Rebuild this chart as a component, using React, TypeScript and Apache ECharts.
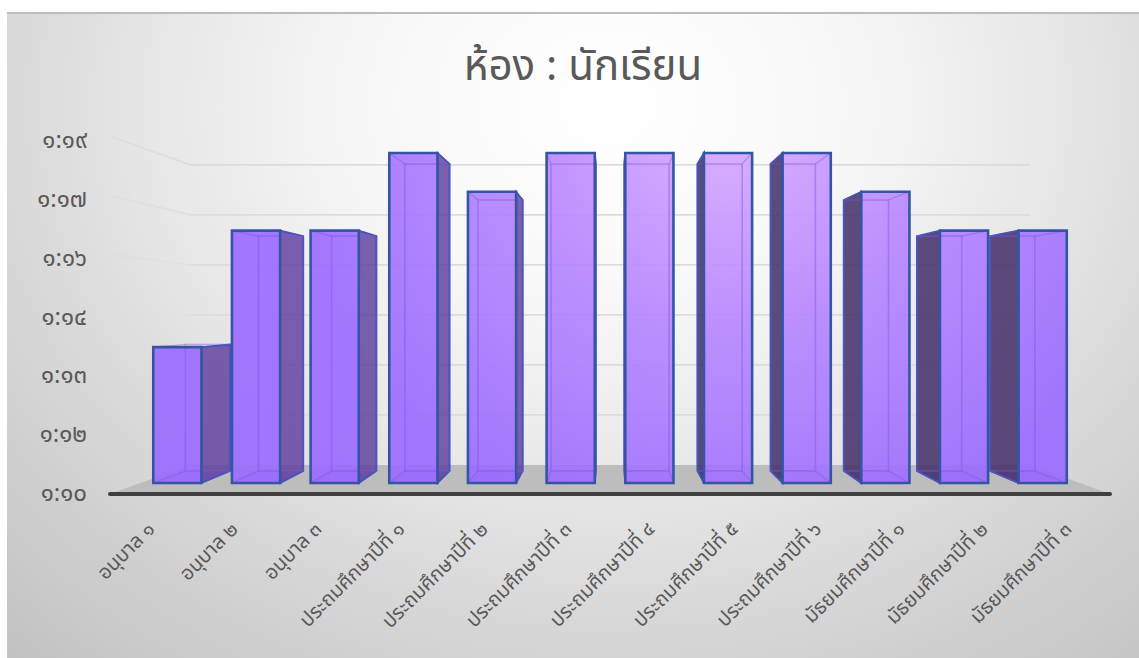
import React, { useEffect, useRef } from "react";
import * as echarts from "echarts";

const categories = [
  "อนุบาล ๑", "อนุบาล ๒", "อนุบาล ๓",
  "ประถมศึกษาปีที่ ๑", "ประถมศึกษาปีที่ ๒", "ประถมศึกษาปีที่ ๓",
  "ประถมศึกษาปีที่ ๔", "ประถมศึกษาปีที่ ๕", "ประถมศึกษาปีที่ ๖",
  "มัธยมศึกษาปีที่ ๑", "มัธยมศึกษาปีที่ ๒", "มัธยมศึกษาปีที่ ๓",
];
const studentsPerRoom = [13.5, 16.5, 16.5, 18.5, 17.5, 18.5, 18.5, 18.5, 18.5, 17.5, 16.5, 16.5];
const tickValues = [10, 11.5, 13, 14.5, 16, 17.5, 19];
const tickLabels = ["๑:๑๐", "๑:๑๒", "๑:๑๓", "๑:๑๔", "๑:๑๖", "๑:๑๗", "๑:๑๙"];
const titleText = "ห้อง : นักเรียน";

const FONT = '"Noto Sans Thai", Tahoma, "Noto Sans", "DejaVu Sans", sans-serif';
const VPX = 610.5;
const VPY = 310;
const BAR_K = 0.93;
const WALL_K = 0.84;
const WALL_VPY = 300;

export default function App() {
  const ref = useRef<HTMLDivElement>(null);
  useEffect(() => {
    const chart = echarts.init(ref.current!, undefined, { renderer: "svg" });
    const frontFill = new (echarts.graphic as any).RadialGradient(
      730, 120, 430,
      [
        { offset: 0, color: "rgba(216,170,255,0.9)" },
        { offset: 0.45, color: "rgba(184,134,255,0.9)" },
        { offset: 1, color: "rgba(154,106,255,0.9)" },
      ],
      true
    );

    const renderGrid = (params: any, api: any) => {
      const v = api.value(0);
      const sys = params.coordSys;
      const fy = api.coord([0, v])[1];
      const by = WALL_VPY + (fy - WALL_VPY) * 0.85;
      const lx = VPX + (sys.x - VPX) * WALL_K;
      const rx = VPX + (sys.x + sys.width - VPX) * WALL_K;
      const children: any[] = [];
      if (v > 10) {
        children.push({
          type: "line",
          shape: { x1: lx, y1: by, x2: rx, y2: by },
          style: { stroke: "#dcdcdc", lineWidth: 1.8 },
        });
        const o = Math.max(0, (v - 13) / 6);
        children.push({
          type: "line",
          shape: { x1: sys.x + 2, y1: fy - 4, x2: lx, y2: by },
          style: { stroke: "#dcdcdc", lineWidth: 1.8, opacity: Math.min(1, o * 0.9) },
        });
      }
      return { type: "group", children };
    };

    const renderFloor = (params: any, api: any) => {
      const sys = params.coordSys;
      const fy = api.coord([0, 10])[1];
      const by = WALL_VPY + (fy - WALL_VPY) * 0.85;
      const l = sys.x;
      const r = sys.x + sys.width;
      return {
        type: "polygon",
        shape: {
          points: [
            [l, fy],
            [VPX + (l - VPX) * WALL_K, by],
            [VPX + (r - VPX) * WALL_K, by],
            [r, fy],
          ],
        },
        style: { fill: "#bdbdbd" },
      };
    };

    const renderBar = (_p: any, api: any) => {
      const idx = api.value(0);
      const v = api.value(1);
      const c = api.coord([idx, v]);
      const base = api.coord([idx, 10]);
      const w = api.size([1, 0])[0] * 0.578;
      const cx = VPX + (c[0] - VPX) * 0.944;
      const fl = cx - w / 2;
      const fr = cx + w / 2;
      const fb = base[1] - 11;
      const ft = fb + (c[1] - base[1]) * 0.99;
      const bx = (x: number) => VPX + (x - VPX) * BAR_K;
      const byy = (y: number) => VPY + (y - VPY) * BAR_K;
      const bl = bx(fl), brr = bx(fr), bt = byy(ft), bb = byy(fb);
      const edge = "#3355a4";
      const inner = "rgba(122,84,226,0.42)";
      const leftSide = cx > VPX;
      const sideX = leftSide ? fl : fr;
      const sideBX = leftSide ? bl : brr;
      const sideFill = leftSide ? "rgba(66,46,104,0.86)" : "rgba(92,58,158,0.8)";
      const poly = (pts: number[][], style: any) => ({ type: "polygon", shape: { points: pts }, style });
      const line = (x1: number, y1: number, x2: number, y2: number, style: any) => ({
        type: "line", shape: { x1, y1, x2, y2 }, style,
      });
      return {
        type: "group",
        children: [
          poly([[fl, fb], [bl, bb], [brr, bb], [fr, fb]], { fill: "rgba(150,100,250,0.35)" }),
          poly([[sideX, ft], [sideBX, bt], [sideBX, bb], [sideX, fb]], { fill: sideFill, stroke: edge, lineWidth: 1.8 }),
          { type: "rect", shape: { x: fl, y: ft, width: fr - fl, height: fb - ft }, style: { fill: frontFill } },
          { type: "rect", shape: { x: bl, y: bt, width: brr - bl, height: bb - bt }, style: { fill: "none", stroke: inner, lineWidth: 1.6 } },
          line(fl, ft, bl, bt, { stroke: inner, lineWidth: 1.2 }),
          line(fr, ft, brr, bt, { stroke: inner, lineWidth: 1.2 }),
          line(fl, fb, bl, bb, { stroke: inner, lineWidth: 1.2 }),
          line(fr, fb, brr, bb, { stroke: inner, lineWidth: 1.2 }),
          { type: "rect", shape: { x: fl, y: ft, width: fr - fl, height: fb - ft }, style: { fill: "none", stroke: edge, lineWidth: 2.6 } },
        ],
      };
    };

    chart.setOption({
      animation: false,
      backgroundColor: "transparent",
      title: {
        text: titleText,
        left: 578,
        top: 41,
        textAlign: "center",
        textStyle: { fontFamily: FONT, fontSize: 42, fontWeight: "normal", color: "#595959" },
      },
      grid: { left: 110, right: 29, top: 141, bottom: 164, containLabel: false },
      xAxis: {
        type: "category",
        data: categories,
        z: 5,
        axisLine: { lineStyle: { color: "#404040", width: 4 } },
        axisTick: { show: false },
        splitLine: { show: false },
        axisLabel: {
          interval: 0,
          rotate: 45,
          margin: 32,
          fontFamily: FONT,
          fontSize: 20,
          color: "#595959",
        },
      },
      yAxis: {
        type: "value",
        min: 10,
        max: 19,
        axisLine: { show: false },
        axisTick: { show: false },
        splitLine: { show: false },
        axisLabel: {
          customValues: tickValues,
          margin: 23,
          fontFamily: FONT,
          fontSize: 24,
          color: "#595959",
          formatter: (v: number) => tickLabels[tickValues.indexOf(v)] ?? "",
        },
      },
      series: [
        { type: "custom", name: "grid", silent: true, z: 1, renderItem: renderGrid, data: tickValues.map((v) => [v]), encode: { y: 0 } },
        { type: "custom", name: "floor", silent: true, z: 1, renderItem: renderFloor, data: [[0]] },
        {
          type: "custom",
          name: "ห้อง : นักเรียน",
          z: 3,
          renderItem: renderBar,
          data: studentsPerRoom.map((v, i) => [i, v]),
          encode: { x: 0, y: 1 },
        },
      ],
    });
    return () => chart.dispose();
  }, []);

  return (
    <div style={{ position: "absolute", left: 0, top: 0, width: 1139, height: 658, background: "#fff", overflow: "hidden" }}>
      <div
        style={{
          position: "absolute", left: 7, top: 12, right: 0, bottom: 0,
          borderTop: "2px solid #bcbcbc",
          background: "radial-gradient(ellipse 760px 640px at 600px 90px, #ffffff 0%, #f8f8f8 30%, #e8e8e8 58%, #d8d8d8 80%, #cccccc 100%, #c0c0c0 120%)",
        }}
      />
      <div ref={ref} style={{ position: "absolute", left: 0, top: 0, width: 1139, height: 658 }} />
    </div>
  );
}
